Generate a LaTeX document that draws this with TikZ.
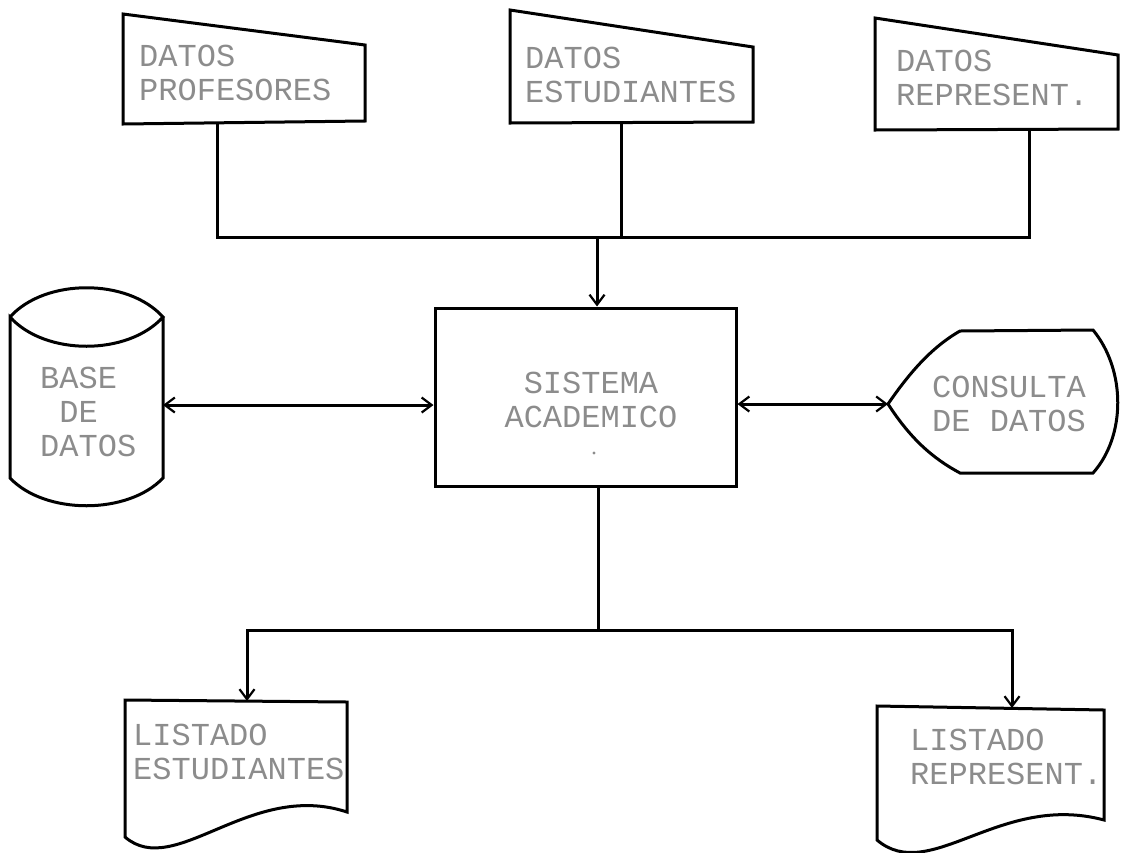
\documentclass[tikz,border=0pt]{standalone}
\usepackage{fontspec}
\newfontfamily\dotfont{Liberation Mono}
\usetikzlibrary{arrows.meta}
\tikzset{
  shapeline/.style={line width=3pt, line join=miter, black},
  conn/.style={line width=3pt, black},
  tip/.style={-{Straight Barb[length=10pt,width=15pt,line width=2.2pt]}},
  dtip/.style={{Straight Barb[length=10pt,width=15pt,line width=2.2pt]}-{Straight Barb[length=10pt,width=15pt,line width=2.2pt]}},
  lbl/.style={font=\dotfont\fontsize{32}{34}\selectfont, text=black!45, inner sep=0pt, align=left, anchor=west},
}
\begin{document}
\begin{tikzpicture}[x=1pt,y=1pt,yscale=-1]
\useasboundingbox (0,0) rectangle (1124,852);

% --- manual input shapes (top)
\draw[shapeline] (123,14) -- (365,45) -- (365,121) -- (123,124) -- cycle;
\node[lbl] (prof) at (139,72.5) {DATOS\\PROFESORES};
\draw[shapeline] (510,10) -- (753,47) -- (753,122) -- (510,123) -- cycle;
\node[lbl] (est) at (525,75) {DATOS\\ESTUDIANTES};
\draw[shapeline] (875,18) -- (1118,55) -- (1118,129) -- (875,130) -- cycle;
\node[lbl] (rep) at (896,78) {DATOS\\REPRESENT.};

\coordinate (p1b) at (217,124);
\coordinate (p2b) at (621,123);
\coordinate (p3b) at (1029,130);
\coordinate (j1) at (597,237);

% --- central process
\node[shapeline, draw, minimum width=301pt, minimum height=178pt, inner sep=0pt] (sis) at (585.5,397) {};
\node[lbl, align=center, anchor=center] (sistxt) at (591,400) {SISTEMA\\ACADEMICO};
\fill[black!45] (594,453) circle (1.6pt);

% --- database cylinder
\draw[shapeline] (10,317) .. controls (45,278) and (128,278) .. (163,317)
                 .. controls (128,356) and (45,356) .. (10,317) -- (10,478)
                 .. controls (45,515) and (128,515) .. (163,478) -- (163,317);
\node[lbl] (bd) at (40,412) {BASE\\\hspace*{0.6em}DE\\DATOS};
\coordinate (db) at (163,405);

% --- display shape
\draw[shapeline] (888,404) .. controls (910,372) and (932,347) .. (960,331) -- (1093,330)
                 .. controls (1126,370) and (1126,436) .. (1093,473) -- (960,473)
                 .. controls (932,458) and (910,438) .. (888,404) -- cycle;
\node[lbl] (cons) at (932,404) {CONSULTA\\DE DATOS};
\coordinate (disp) at (888,404);

% --- documents
\draw[shapeline] (125,700) -- (347,702) -- (347,812)
                 .. controls (250,780) and (175,880) .. (125,837) -- cycle;
\node[lbl] (lest) at (133,752) {LISTADO\\ESTUDIANTES};
\draw[shapeline] (877,706) -- (1104,710) -- (1104,820)
                 .. controls (1000,792) and (930,885) .. (877,840) -- cycle;
\node[lbl] (lrep) at (910,757) {LISTADO\\REPRESENT.};
\coordinate (l1t) at (247,701);
\coordinate (l2t) at (1012,708);
\coordinate (j2) at (598,630);

% --- connectors
\draw[conn] (p1b) -- (p1b |- j1) -- (p3b |- j1) -- (p3b);
\draw[conn] (p2b) -- (p2b |- j1);
\draw[conn, tip] (j1) -- (j1 |- sis.north);
\draw[conn, dtip] (db) -- (db -| sis.west);
\draw[conn, dtip] (sis.east |- disp) -- (disp);
\draw[conn] (j2 |- sis.south) -- (j2);
\draw[conn, tip] (j2) -| (l1t);
\draw[conn, tip] (j2) -| (l2t);
\end{tikzpicture}
\end{document}
